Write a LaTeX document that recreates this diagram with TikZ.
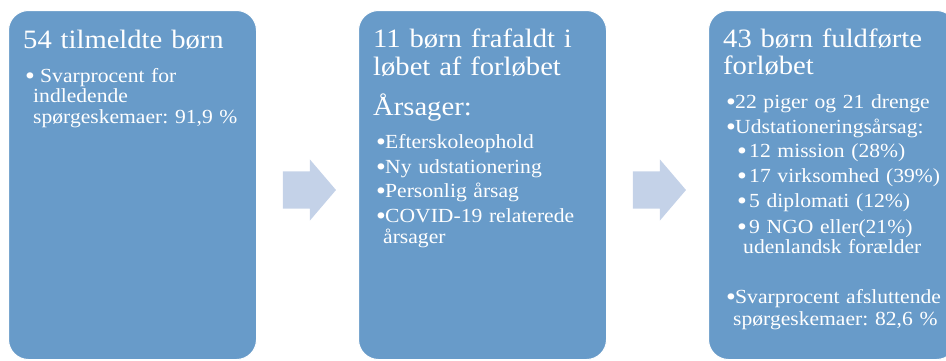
\documentclass[tikz,border=0pt]{standalone}
\usepackage{fontspec}
\setmainfont{Liberation Serif}[FakeStretch=1.08]
\usepackage{tikz}
\usetikzlibrary{shapes.arrows}
\definecolor{stageblue}{RGB}{104,155,201}
\definecolor{arrowblue}{RGB}{196,210,232}
\tikzset{
  stage/.style={draw=white, line width=1pt, fill=stageblue, rounded corners=20pt,
    anchor=north west, minimum width=248pt, minimum height=349pt, inner sep=0pt},
  flow/.style={single arrow, fill=arrowblue, minimum height=53pt, inner xsep=0pt, inner ysep=18.5pt,
    single arrow head extend=12pt, single arrow tip angle=99},
  ttl/.style={anchor=base west, text=white, inner sep=0pt, text width=230pt, align=left,
    font=\fontsize{26.5}{28}\selectfont\frenchspacing},
  txt/.style={anchor=base west, text=white, inner sep=0pt, text width=230pt, align=left,
    font=\fontsize{20}{21}\selectfont\frenchspacing}
}
\newcommand{\bul}[1]{\makebox[#1][l]{\raisebox{-2.8pt}{\scalebox{1.3}{\textbullet}}}}
\begin{document}
\begin{tikzpicture}[x=1pt,y=-1pt]
\useasboundingbox (0,0) rectangle (946,360);
\clip (0,0) rectangle (946,360);
\node[stage] (tilmeldte) at (8,10) {};
\node[stage] (frafaldt) at (358,10) {};
\node[stage] (fuldfoert) at (708,10) {};
\node[flow] (pil1) at (301.5,190) {};
\node[flow] (pil2) at (651.5,190) {};
% boks 1
\node[ttl] (t1) at (23,48) {54 tilmeldte børn};
\node[txt] (t1a) at (25,82) {\bul{15pt}Svarprocent for\\[-0.5pt]
  \hspace*{8pt}indledende\\\hspace*{8pt}spørgeskemaer: 91,9 \%};
% boks 2
\node[ttl] (t2) at (373,47) {11 børn frafaldt i\\løbet af forløbet};
\node[ttl] (t2c) at (373,115) {Årsager:};
\node[txt] (a1) at (376,148) {\bul{9pt}Efterskoleophold};
\node[txt] (a2) at (376,173) {\bul{9pt}Ny udstationering};
\node[txt] (a3) at (376,197) {\bul{9pt}Personlig årsag};
\node[txt] (a4) at (376,222) {\bul{9pt}COVID-19 relaterede\\\hspace*{7pt}årsager};
% boks 3
\node[ttl] (t3) at (723,47) {43 børn fuldførte\\[-1pt]forløbet};
\node[txt] (f1) at (726,108) {\bul{9pt}22 piger og 21 drenge};
\node[txt] (f2) at (726,133) {\bul{9pt}Udstationeringsårsag:};
\node[txt] (u1) at (737,157) {\bul{12pt}12 mission (28\%)};
\node[txt] (u2) at (737,182) {\bul{12pt}17 virksomhed (39\%)};
\node[txt] (u3) at (737,207) {\bul{12pt}5 diplomati (12\%)};
\node[txt] (u4) at (737,233) {\bul{12pt}9 NGO eller(21\%)\\[-1pt]\hspace*{6pt}udenlandsk forælder};
\node[txt] (f3) at (726,303) {\bul{9pt}Svarprocent afsluttende\\[1pt]\hspace*{7pt}spørgeskemaer: 82,6 \%};
\end{tikzpicture}
\end{document}
